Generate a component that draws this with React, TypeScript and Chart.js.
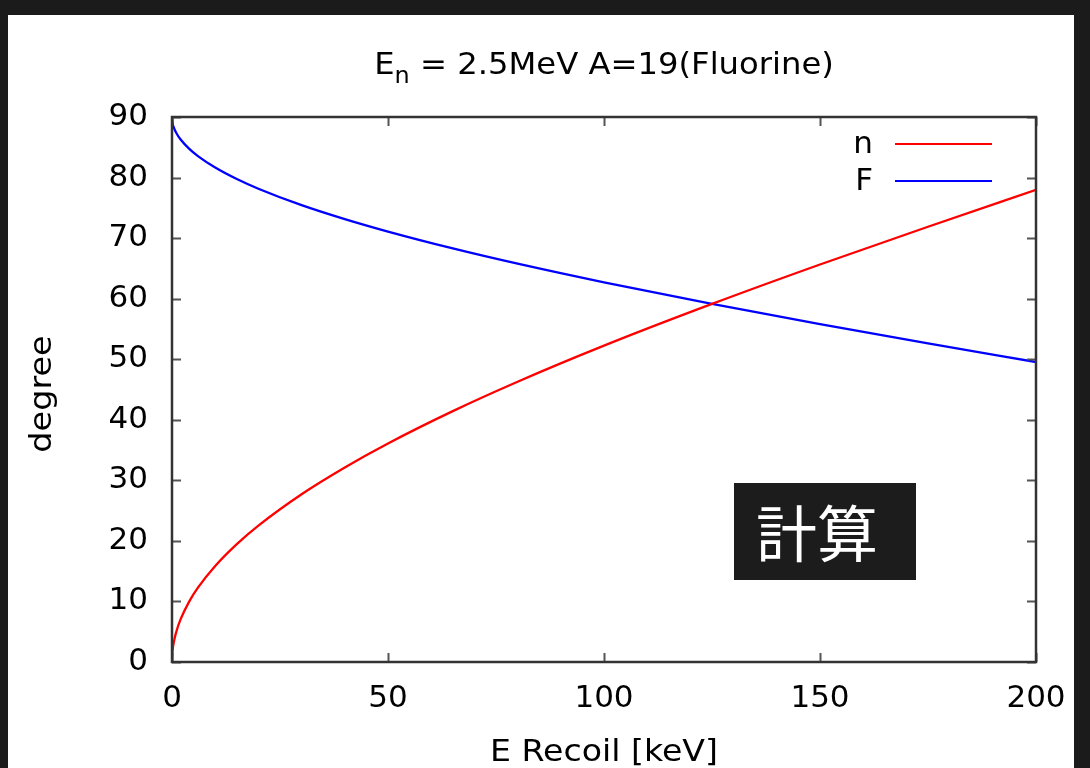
import React, { useEffect, useRef } from "react";
import { Chart, registerables } from "chart.js";

Chart.register(...registerables);

// E recoil [keV]
const energies = [0, 0.1, 0.5, 1, 2, 4, 6, 10, 15, 20, 30, 40, 50, 65, 80, 100, 125, 150, 175, 200];
// neutron scattering angle [degree]
const neutronAngle = [0, 1.58, 3.53, 5.0, 7.07, 10.01, 12.27, 15.86, 19.47, 22.53, 27.71, 32.13, 36.09, 41.43, 46.28, 52.24, 59.13, 65.64, 71.88, 77.96];
// fluorine recoil angle [degree]
const fluorineAngle = [90, 89.17, 88.14, 87.37, 86.28, 84.73, 83.55, 81.66, 79.76, 78.16, 75.44, 73.13, 71.07, 68.29, 65.77, 62.69, 59.14, 55.81, 52.63, 49.54];

const xTicks = [0, 50, 100, 150, 200];
const yTicks = [0, 10, 20, 30, 40, 50, 60, 70, 80, 90];
const seriesLabels = ["n", "F"];
const seriesColors = ["#ff0000", "#0000ff"];
const titleMain = "E";
const titleSub = "n";
const titleRest = " = 2.5MeV A=19(Fluorine)";
const xTitle = "E Recoil [keV]";
const yTitle = "degree";
const boxText = "計算";

const FONT = "'DejaVu Sans', 'Liberation Sans', Arial, sans-serif";
const FS = 31;

const framePlugin = {
  id: "gnuplotFrame",
  afterDatasetsDraw(chart: any) {
    const { ctx, chartArea, scales } = chart;
    const { left, right, top, bottom } = chartArea;
    ctx.save();
    // ticks
    ctx.strokeStyle = "#555";
    ctx.lineWidth = 2;
    const tl = 9;
    ctx.beginPath();
    xTicks.forEach((v) => {
      const x = Math.round(scales.x.getPixelForValue(v)) + 0.5;
      ctx.moveTo(x, bottom);
      ctx.lineTo(x, bottom - tl);
      ctx.moveTo(x, top);
      ctx.lineTo(x, top + tl);
    });
    yTicks.forEach((v) => {
      const y = Math.round(scales.y.getPixelForValue(v)) + 0.5;
      ctx.moveTo(left, y);
      ctx.lineTo(left + tl, y);
      ctx.moveTo(right, y);
      ctx.lineTo(right - tl, y);
    });
    ctx.stroke();
    // frame
    ctx.strokeStyle = "#333";
    ctx.lineWidth = 2.5;
    ctx.strokeRect(left, top, right - left, bottom - top);

    // legend
    ctx.font = `${FS}px ${FONT}`;
    ctx.fillStyle = "#000";
    ctx.textAlign = "right";
    ctx.textBaseline = "middle";
    const legendY = [144, 181];
    seriesLabels.forEach((lab, i) => {
      ctx.fillText(lab, 873, legendY[i] + 1);
      ctx.strokeStyle = seriesColors[i];
      ctx.lineWidth = 2;
      ctx.beginPath();
      ctx.moveTo(895, legendY[i]);
      ctx.lineTo(992, legendY[i]);
      ctx.stroke();
    });

    // title with subscript (slightly widened)
    const sxT = 1.04;
    ctx.textAlign = "left";
    ctx.textBaseline = "alphabetic";
    ctx.font = `${FS}px ${FONT}`;
    const wMain = ctx.measureText(titleMain).width;
    const wRest = ctx.measureText(titleRest).width;
    ctx.font = `23px ${FONT}`;
    const wSub = ctx.measureText(titleSub).width;
    const total = (wMain + wSub + wRest) * sxT;
    const cx = (left + right) / 2;
    const tBase = 74;
    ctx.save();
    ctx.translate(cx - total / 2, tBase);
    ctx.scale(sxT, 1);
    let tx = 0;
    ctx.font = `${FS}px ${FONT}`;
    ctx.fillText(titleMain, tx, 0);
    tx += wMain;
    ctx.font = `23px ${FONT}`;
    ctx.fillText(titleSub, tx, 9);
    tx += wSub;
    ctx.font = `${FS}px ${FONT}`;
    ctx.fillText(titleRest, tx, 0);
    ctx.restore();

    // x title
    ctx.save();
    ctx.font = `${FS}px ${FONT}`;
    ctx.textAlign = "center";
    ctx.translate(cx, 761);
    ctx.scale(1.07, 1);
    ctx.fillText(xTitle, 0, 0);
    ctx.restore();

    // y title
    ctx.save();
    ctx.font = `${FS}px ${FONT}`;
    ctx.translate(43, 394);
    ctx.rotate(-Math.PI / 2);
    ctx.scale(1.08, 1);
    ctx.textAlign = "center";
    ctx.textBaseline = "middle";
    ctx.fillText(yTitle, 0, 0);
    ctx.restore();
    ctx.restore();
  },
};

function App() {
  const ref = useRef<HTMLCanvasElement | null>(null);

  useEffect(() => {
    if (!ref.current) return;
    const mk = (ys: number[]) => energies.map((x, i) => ({ x, y: ys[i] }));
    const chart = new Chart(ref.current, {
      type: "line",
      data: {
        datasets: [
          {
            label: seriesLabels[0],
            data: mk(neutronAngle),
            borderColor: seriesColors[0],
            borderWidth: 2.3,
            pointRadius: 0,
            cubicInterpolationMode: "monotone",
            fill: false,
          },
          {
            label: seriesLabels[1],
            data: mk(fluorineAngle),
            borderColor: seriesColors[1],
            borderWidth: 2.3,
            pointRadius: 0,
            cubicInterpolationMode: "monotone",
            fill: false,
          },
        ],
      },
      options: {
        animation: false,
        responsive: false,
        maintainAspectRatio: false,
        layout: { padding: { top: 117, right: 54, left: 0, bottom: 0 } },
        plugins: { legend: { display: false }, title: { display: false }, tooltip: { enabled: false } },
        scales: {
          x: {
            type: "linear",
            min: 0,
            max: 200,
            afterFit: (s: any) => {
              s.height = 106;
            },
            afterBuildTicks: (s: any) => {
              s.ticks = xTicks.map((v) => ({ value: v }));
            },
            grid: { display: false, drawTicks: false },
            border: { display: false },
            ticks: {
              color: "#000",
              font: { family: FONT, size: FS },
              padding: 18,
              maxRotation: 0,
            },
          },
          y: {
            type: "linear",
            min: 0,
            max: 90,
            afterFit: (s: any) => {
              s.width = 172;
            },
            afterBuildTicks: (s: any) => {
              s.ticks = yTicks.map((v) => ({ value: v }));
            },
            grid: { display: false, drawTicks: false },
            border: { display: false },
            ticks: {
              color: "#000",
              font: { family: FONT, size: FS },
              padding: 24,
            },
          },
        },
      },
      plugins: [framePlugin],
    });
    return () => chart.destroy();
  }, []);

  return (
    <div style={{ position: "fixed", left: 0, top: 0, width: 1090, height: 768, background: "#1b1b1b", overflow: "hidden" }}>
      <div style={{ position: "absolute", left: 8, top: 15, width: 1066, height: 753, background: "#ffffff" }} />
      <canvas ref={ref} width={1090} height={768} style={{ position: "absolute", left: 0, top: 0, width: 1090, height: 768 }} />
      <div
        style={{
          position: "absolute",
          left: 734,
          top: 483,
          width: 182,
          height: 97,
          boxSizing: "border-box",
          paddingLeft: 22,
          background: "#1c1c1c",
          color: "#ffffff",
          fontFamily: "'Noto Sans CJK JP', 'Noto Sans CJK SC', sans-serif",
          fontSize: 61,
          lineHeight: "95px",
          textAlign: "left",
        }}
      >
        {boxText}
      </div>
    </div>
  );
}

export default App;
